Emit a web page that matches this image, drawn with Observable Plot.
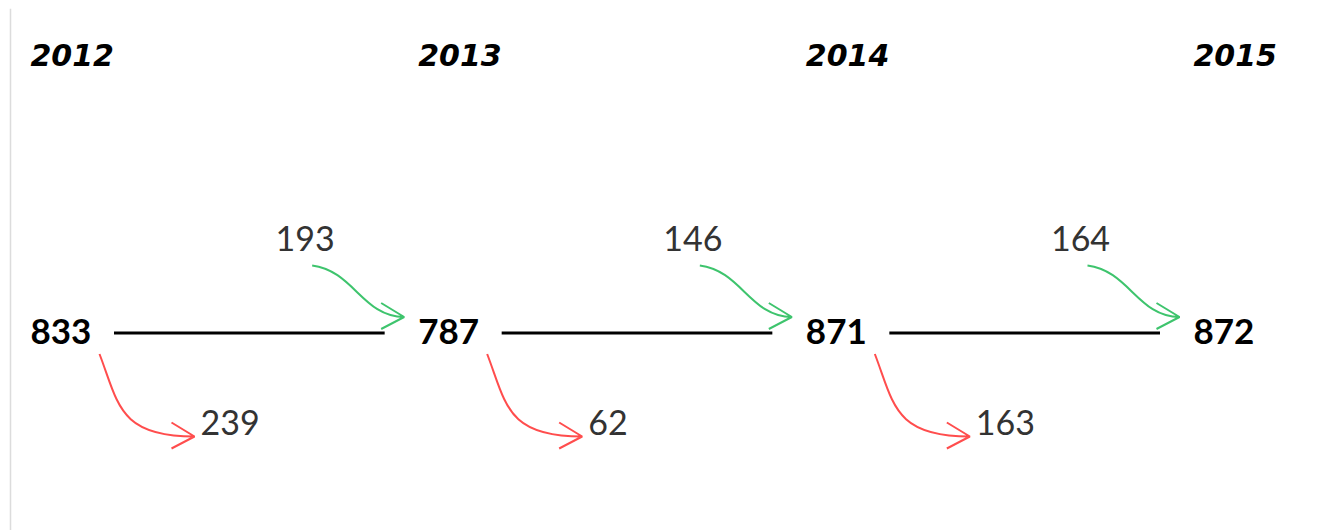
<!DOCTYPE html>
<html>
<head>
<meta charset="utf-8">
<script src="https://cdn.jsdelivr.net/npm/d3@7"></script>
<script src="https://cdn.jsdelivr.net/npm/@observablehq/plot@0.6"></script>
<style>
  html, body { margin: 0; padding: 0; background: #fff; }
</style>
</head>
<body>
<div id="chart"></div>
<script>
// ---- data ----
const years = [2012, 2013, 2014, 2015];
const totals = [833, 787, 871, 872];
const inflows = [193, 146, 164];   // arriving into the next year
const outflows = [239, 62, 163];   // leaving from the current year

// ---- tables built from the arrays ----
const yearRows = years.map((year, i) => ({year, total: totals[i]}));
const steps = inflows.map((v, i) => ({
  from: years[i],
  to: years[i + 1],
  inflow: v,
  outflow: outflows[i]
}));

const rows = ["year", "gap", "in", "total", "out"];

// curved arrow drawn by a curve factory, relative to the link's two anchors
function arrowCurve({start, end, c1, c2}) {
  return (context) => {
    let pts = [];
    return {
      areaStart() {}, areaEnd() {},
      lineStart() { pts = []; },
      point(x, y) { pts.push([+x, +y]); },
      lineEnd() {
        const [ax, ay] = pts[0];
        const [bx, by] = pts[pts.length - 1];
        const x0 = ax + start[0], y0 = ay + start[1];
        const x1 = bx + end[0], y1 = by + end[1];
        const dx = x1 - x0, dy = y1 - y0;
        context.moveTo(x0, y0);
        context.bezierCurveTo(x0 + c1[0] * dx, y0 + c1[1] * dy,
                              x0 + c2[0] * dx, y0 + c2[1] * dy, x1, y1);
        context.moveTo(x1 - 23, y1 - 14);
        context.lineTo(x1, y1);
        context.lineTo(x1 - 23, y1 + 12);
      }
    };
  };
}

const inCurve = arrowCurve({start: [-106, 25], end: [-14, -15.5], c1: [0.45, 0.1], c2: [0.55, 1]});
const outCurve = arrowCurve({start: [69, 21.5], end: [164, 12], c1: [0.2, 0.6], c2: [0.2, 1]});

const font = "Lato, 'Open Sans', sans-serif";

const chart = Plot.plot({
  width: 1329,
  height: 530,
  marginLeft: 10,
  marginTop: 9,
  marginRight: 0,
  marginBottom: 0,
  style: {fontFamily: font, background: "#fff"},
  x: {type: "linear", domain: [2012, 2015], range: [30, 1193], axis: null},
  y: {type: "point", domain: rows, range: [55, 425], padding: 0, axis: null},
  marks: [
    Plot.frame({anchor: "left", stroke: "#dcdcdc", strokeWidth: 1.5}),
    // year headers
    Plot.text(yearRows, {
      x: "year", y: () => "year", text: (d) => String(d.year),
      textAnchor: "start", fontSize: 30, fontWeight: "bold", fontStyle: "italic",
      fontFamily: "'DejaVu Sans', Lato, sans-serif", fill: "#000"
    }),
    // connecting lines
    Plot.ruleY(steps, {
      x1: "from", x2: "to", y: () => "total", dy: 0.5,
      insetLeft: 84, insetRight: 33, stroke: "#000", strokeWidth: 3
    }),
    // totals
    Plot.text(yearRows, {
      x: "year", y: () => "total", text: (d) => String(d.total),
      textAnchor: "start", fontSize: 35, fontWeight: "bold", fill: "#000"
    }),
    // inflow arrows
    Plot.link(steps, {
      x1: "to", y1: () => "in", x2: "to", y2: () => "total",
      curve: inCurve, stroke: "#3ec46d", strokeWidth: 2, fill: "none"
    }),
    Plot.text(steps, {
      x: "to", y: () => "in", text: (d) => String(d.inflow),
      textAnchor: "middle", dx: -113, fontSize: 34, fill: "#333"
    }),
    // outflow arrows
    Plot.link(steps, {
      x1: "from", y1: () => "total", x2: "from", y2: () => "out",
      curve: outCurve, stroke: "#ff4d4d", strokeWidth: 2, fill: "none"
    }),
    Plot.text(steps, {
      x: "from", y: () => "out", text: (d) => String(d.outflow),
      textAnchor: "start", dx: 170, fontSize: 34, fill: "#333"
    })
  ]
});

document.getElementById("chart").append(chart);
</script>
</body>
</html>
